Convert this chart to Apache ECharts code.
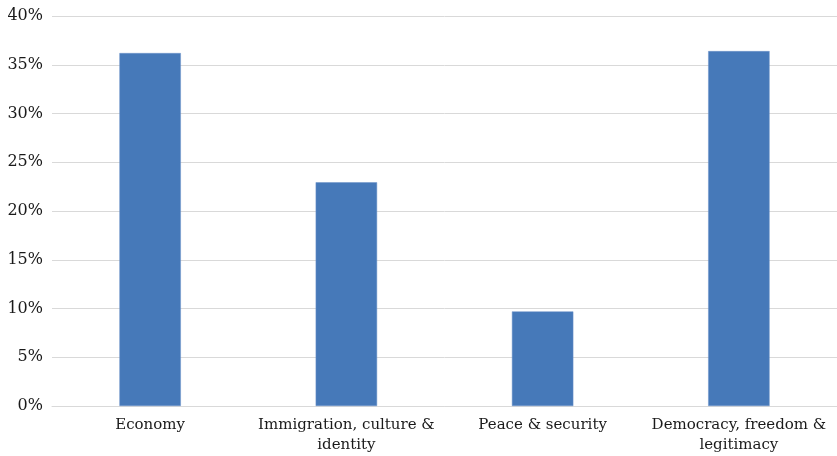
<!DOCTYPE html>
<html><head><meta charset="utf-8">
<script src="https://cdn.jsdelivr.net/npm/echarts@6/dist/echarts.min.js"></script>
<style>html,body{margin:0;padding:0;background:#fff}#c{width:837px;height:456px}</style>
</head><body><div id="c"></div>
<script>
var categories = ["Economy", "Immigration, culture &\nidentity", "Peace & security", "Democracy, freedom &\nlegitimacy"];
var values = [36.2, 22.95, 9.7, 36.4];
var yTicks = {min: 0, max: 40, interval: 5};

var chart = echarts.init(document.getElementById('c'), null, {renderer: 'canvas'});
chart.setOption({
  animation: false,
  grid: {left: 52, right: 0, top: 16, bottom: 50, containLabel: false},
  xAxis: {
    type: 'category', data: categories,
    axisLine: {show: true, lineStyle: {color: '#d9d9d9', width: 1}},
    axisTick: {show: false},
    axisLabel: {color: '#1a1a1a', fontFamily: 'DejaVu Serif', fontSize: 15, lineHeight: 20, margin: 9, interval: 0}
  },
  yAxis: {
    type: 'value', min: yTicks.min, max: yTicks.max, interval: yTicks.interval,
    axisLine: {show: false}, axisTick: {show: false},
    splitLine: {lineStyle: {color: '#d9d9d9', width: 1}},
    axisLabel: {color: '#1a1a1a', fontFamily: 'DejaVu Serif', fontSize: 16, margin: 9, formatter: '{value}%'}
  },
  series: [{
    type: 'bar', data: values, barWidth: '31.3%',
    itemStyle: {color: '#4679B9', borderColor: '#6c93c8', borderWidth: 0.5}
  }]
});
</script></body></html>
